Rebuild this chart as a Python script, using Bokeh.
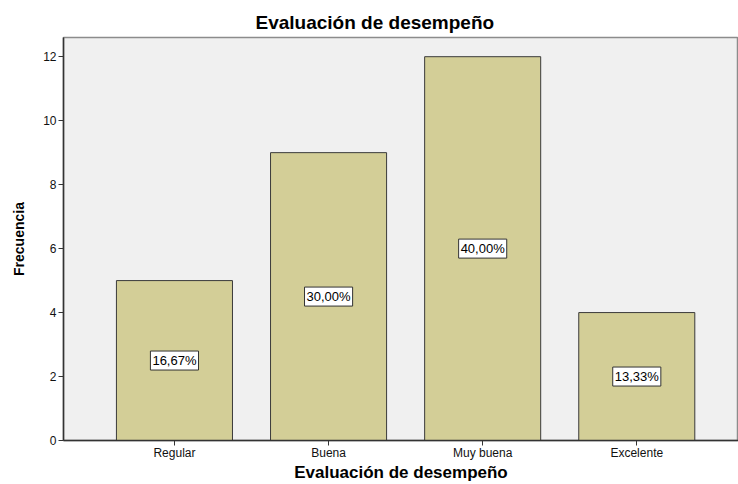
from bokeh.plotting import figure
from bokeh.models import ColumnDataSource, FixedTicker, Range1d
from bokeh.core.properties import value
from bokeh.embed import file_html
from bokeh.resources import INLINE

categories = ["Regular", "Buena", "Muy buena", "Excelente"]
frequencies = [5, 9, 12, 4]
percent_labels = ["16,67%", "30,00%", "40,00%", "13,33%"]
y_ticks = [0, 2, 4, 6, 8, 10, 12]

xs = list(range(len(categories)))
src = ColumnDataSource(dict(
    x=xs,
    top=frequencies,
    mid=[f / 2 for f in frequencies],
    lab=percent_labels,
))

p = figure(width=738, height=484, output_backend="svg", toolbar_location=None,
           x_range=Range1d(-0.72, 3.66), y_range=Range1d(0, 12.6),
           min_border_left=63, min_border_right=0, min_border_top=37, min_border_bottom=0,
           title="Evaluación de desempeño")

p.background_fill_color = "#f0f0f0"
p.border_fill_color = "white"
p.outline_line_color = "#8c8c8c"
p.outline_line_width = 1.5
p.grid.visible = False

p.title.text_font = "Liberation Sans"
p.title.text_font_size = "19px"
p.title.text_font_style = "bold"
p.title.text_color = "black"
p.title.align = "left"
p.title.offset = 192
p.title.standoff = 10

p.vbar(x="x", top="top", width=0.753, source=src,
       fill_color="#d3ce97", line_color="#3a3a3a", line_width=1)

p.text(x="x", y="mid", text="lab", source=src,
       text_align="center", text_baseline="middle",
       text_font=value("Liberation Sans"), text_font_size="13px", text_color="black",
       background_fill_color="white", border_line_color="#333333",
       border_line_width=1, padding=2)

xa = p.xaxis[0]
xa.ticker = FixedTicker(ticks=xs)
xa.major_label_overrides = {i: c for i, c in zip(xs, categories)}
xa.axis_label = "Evaluación de desempeño"
xa.axis_label_text_font = "Liberation Sans"
xa.axis_label_text_font_size = "17px"
xa.axis_label_text_font_style = "bold"
xa.axis_label_text_color = "black"
xa.axis_label_standoff = 0
xa.major_label_standoff = 0

ya = p.yaxis[0]
ya.ticker = FixedTicker(ticks=y_ticks)
ya.axis_label = "Frecuencia"
ya.axis_label_text_font = "Liberation Sans"
ya.axis_label_text_font_size = "14px"
ya.axis_label_text_font_style = "bold"
ya.axis_label_text_color = "black"
ya.axis_label_standoff = 13
ya.major_label_standoff = 2

for ax in (xa, ya):
    ax.major_label_text_font = "Liberation Sans"
    ax.major_label_text_font_size = "12px"
    ax.major_label_text_color = "#111111"
    ax.axis_line_color = "#333333"
    ax.axis_line_width = 1.5
    ax.major_tick_line_color = "#333333"
    ax.major_tick_in = 0
    ax.major_tick_out = 5
    ax.minor_tick_line_color = None

open("out.html", "w").write(file_html(p, INLINE))
